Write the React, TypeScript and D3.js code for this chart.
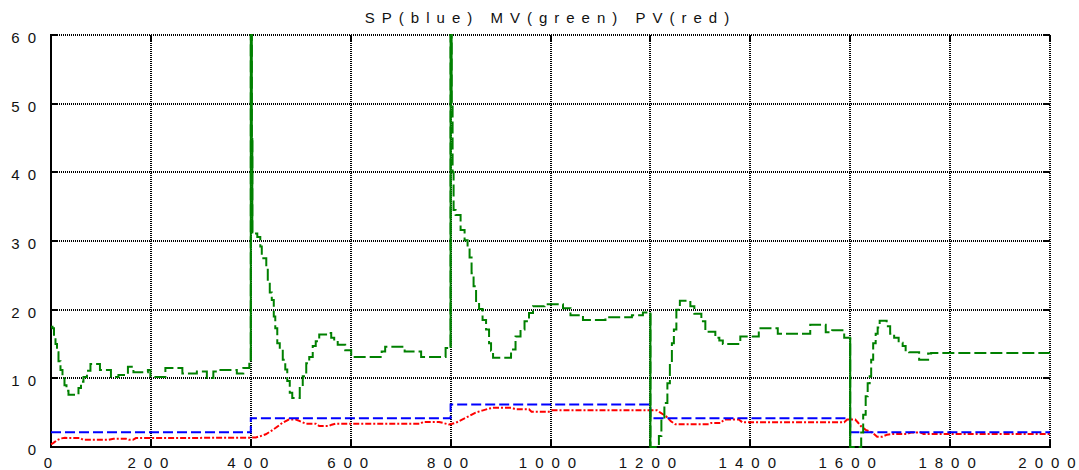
import React from "react";
import * as d3 from "d3";

const W = 1079;
const H = 470;
const PLOT = { left: 51, right: 1050, top: 35, bottom: 447 };

const TITLE = "SP(blue) MV(green) PV(red)";
const X_TICKS = [0, 200, 400, 600, 800, 1000, 1200, 1400, 1600, 1800, 2000];
const Y_TICKS = [0, 10, 20, 30, 40, 50, 60];

// Setpoint (step)
const SP_POINTS: [number, number][] = [
  [0, 2.15], [400, 4.2], [800, 6.2], [1200, 4.2], [1600, 2.15], [2000, 2.15],
];

// Manipulated variable (step)
const MV_POINTS: [number, number][] = [
  [0, 17.5], [3, 17.3], [6, 16.0], [9, 15.0], [12, 13.8], [15, 12.5], [19, 11.2],
  [23, 10.0], [27, 9.0], [31, 8.2], [35, 7.6], [55, 8.6], [60, 9.5], [65, 10.2],
  [72, 11.1], [79, 12.1], [98, 11.2], [120, 10.2], [135, 10.5], [154, 11.7],
  [165, 10.9], [194, 11.2], [199, 10.2], [229, 11.5], [263, 10.7], [292, 11.0],
  [312, 10.05], [325, 11.0], [336, 11.2], [372, 10.7], [385, 11.5], [397, 12.5],
  [400, 300], [401, 62], [402, 45], [403, 31.1], [413, 30.6], [419, 29.2],
  [422, 27.5], [431, 26.2], [434, 24.0], [438, 22.5], [442, 21.4], [446, 19.0],
  [449, 17.3], [453, 15.1], [458, 14.2], [464, 12.7], [469, 11.3], [473, 9.6],
  [478, 7.9], [483, 7.15], [498, 8.8], [504, 10.3], [511, 12.2], [517, 13.1],
  [524, 14.7], [530, 15.4], [537, 16.4], [554, 16.6], [561, 15.9], [567, 15.5],
  [574, 14.9], [589, 14.1], [601, 13.1], [662, 13.9], [669, 14.6], [708, 13.9],
  [741, 13.1], [790, 14.4],
  [800, 300], [801, 62], [802, 50], [804, 40], [806, 34.5], [810, 33.8],
  [820, 31.6], [828, 30.1], [834, 29.0], [838, 27.6], [842, 25.3], [846, 23.4],
  [851, 21.0], [857, 20.1], [864, 18.5], [871, 17.1], [877, 15.1], [881, 14.0],
  [885, 13.0], [921, 14.2], [930, 16.1], [940, 17.1], [948, 18.3], [957, 19.5],
  [965, 20.5], [988, 20.8], [1025, 20.2], [1040, 19.2], [1065, 18.5],
  [1110, 18.9], [1163, 19.2], [1185, 19.6],
  [1200, 0], [1217, 1.6], [1222, 4.0], [1228, 6.4], [1234, 9.3], [1239, 12.2],
  [1243, 15.1], [1247, 17.1], [1252, 20.0], [1259, 21.3], [1280, 20.5],
  [1288, 19.4], [1302, 18.3], [1310, 16.8], [1330, 15.9], [1338, 15.5],
  [1345, 15.0], [1380, 16.1], [1417, 17.3], [1455, 16.5], [1520, 17.8],
  [1551, 16.7], [1564, 17.0], [1588, 15.9],
  [1600, 0], [1622, 2.1], [1626, 4.7], [1631, 7.4], [1635, 9.3], [1639, 10.3],
  [1642, 12.7], [1646, 15.1], [1651, 16.5], [1655, 17.4], [1659, 18.4],
  [1673, 17.6], [1680, 16.5], [1688, 15.9], [1697, 15.2], [1705, 14.7],
  [1711, 13.9], [1718, 13.8], [1738, 12.7], [1756, 13.6], [1762, 13.7],
  [2000, 13.7],
];

// Process variable (line)
const PV_POINTS: [number, number][] = [
  [0, 0.4], [5, 0.6], [12, 1.0], [20, 1.25], [28, 1.33], [58, 1.3], [64, 1.05],
  [115, 1.05], [125, 1.2], [150, 1.2], [156, 1.05], [164, 1.05], [170, 1.3],
  [398, 1.35], [410, 1.4], [420, 1.6], [430, 1.85], [440, 2.3], [450, 2.8],
  [463, 3.5], [476, 4.0], [490, 4.0], [497, 3.8], [510, 3.4], [530, 3.4],
  [537, 3.05], [556, 3.05], [562, 3.25], [570, 3.4], [740, 3.4], [745, 3.65],
  [777, 3.65], [785, 3.5], [797, 3.27], [810, 3.5], [823, 4.0], [837, 4.5],
  [850, 5.0], [863, 5.3], [877, 5.6], [885, 5.7], [923, 5.7], [930, 5.5],
  [957, 5.5], [962, 5.15], [997, 5.15], [1003, 5.35], [1213, 5.35], [1220, 5.0],
  [1231, 4.5], [1241, 3.75], [1250, 3.3], [1317, 3.3], [1322, 3.5], [1340, 3.5],
  [1348, 4.0], [1377, 4.0], [1384, 3.6], [1588, 3.6], [1594, 4.0], [1610, 4.0],
  [1615, 3.6], [1622, 3.0], [1631, 2.5], [1644, 2.1], [1654, 1.5], [1664, 1.5],
  [1674, 1.8], [1687, 1.9], [1714, 1.9], [1721, 2.1], [1741, 2.1], [1747, 1.9],
  [2000, 1.9],
];

const FONT = "'Liberation Sans', Arial, Helvetica, sans-serif";

function SpacedText(props: {
  text: string;
  x: number;
  y: number;
  anchor: "start" | "middle" | "end";
  gap: number;
  size: number;
}) {
  const chars = Array.from(props.text);
  return (
    <text
      x={props.x}
      y={props.y}
      textAnchor={props.anchor}
      fontFamily={FONT}
      fontSize={props.size}
      fill="#111"
      style={{ whiteSpace: "pre" }}
    >
      {chars.map((c, i) => (
        <tspan key={i} dx={i === 0 ? 0 : props.gap}>
          {c}
        </tspan>
      ))}
    </text>
  );
}

export default function App() {
  const x = d3.scaleLinear().domain([0, 2000]).range([PLOT.left, PLOT.right]);
  const y = d3.scaleLinear().domain([0, 60]).range([PLOT.bottom, PLOT.top]);

  const stepLine = d3
    .line<[number, number]>()
    .x((d) => x(d[0]))
    .y((d) => y(d[1]))
    .curve(d3.curveStepAfter);
  const linLine = d3
    .line<[number, number]>()
    .x((d) => x(d[0]))
    .y((d) => y(d[1]));

  // big jumps of MV drawn solid
  const jumps: { t: number; a: number; b: number }[] = [];
  for (let i = 1; i < MV_POINTS.length; i++) {
    const a = MV_POINTS[i - 1][1];
    const b = MV_POINTS[i][1];
    if (Math.abs(b - a) >= 12) jumps.push({ t: MV_POINTS[i][0], a, b });
  }

  const gridStyle = {
    stroke: "#000",
    strokeWidth: 2,
    strokeDasharray: "1,1",
    shapeRendering: "crispEdges" as const,
  };
  const tickLen = 7;
  const px = (v: number) => Math.round(v);

  return (
    <svg
      width={W}
      height={H}
      style={{ position: "absolute", left: 0, top: 0, background: "#fff" }}
    >
      <defs>
        <clipPath id="plotClip">
          <rect
            x={PLOT.left - 1}
            y={PLOT.top - 1}
            width={PLOT.right - PLOT.left + 2}
            height={PLOT.bottom - PLOT.top + 2}
          />
        </clipPath>
      </defs>
      <rect x={0} y={0} width={W} height={H} fill="#fff" />

      {/* grid */}
      {X_TICKS.map((t) => (
        <line key={"gx" + t} x1={px(x(t))} x2={px(x(t))} y1={PLOT.top} y2={PLOT.bottom} {...gridStyle} />
      ))}
      {Y_TICKS.map((v) => (
        <line key={"gy" + v} x1={PLOT.left} x2={PLOT.right} y1={px(y(v))} y2={px(y(v))} {...gridStyle} />
      ))}

      {/* axes */}
      <line x1={PLOT.left} x2={PLOT.left} y1={PLOT.top - 1} y2={PLOT.bottom + 1} stroke="#000" strokeWidth={2} shapeRendering="crispEdges" />
      <line x1={PLOT.left - 1} x2={PLOT.right + 1} y1={PLOT.bottom} y2={PLOT.bottom} stroke="#000" strokeWidth={2} shapeRendering="crispEdges" />

      {/* ticks */}
      {X_TICKS.map((t) => (
        <g key={"tx" + t}>
          <line x1={px(x(t))} x2={px(x(t))} y1={PLOT.bottom} y2={PLOT.bottom - tickLen} stroke="#000" strokeWidth={2} shapeRendering="crispEdges" />
          <line x1={px(x(t))} x2={px(x(t))} y1={PLOT.top} y2={PLOT.top + tickLen} stroke="#000" strokeWidth={2} shapeRendering="crispEdges" />
        </g>
      ))}
      {Y_TICKS.map((v) => (
        <g key={"ty" + v}>
          <line x1={PLOT.left} x2={PLOT.left + tickLen} y1={px(y(v))} y2={px(y(v))} stroke="#000" strokeWidth={2} shapeRendering="crispEdges" />
          <line x1={PLOT.right} x2={PLOT.right - tickLen} y1={px(y(v))} y2={px(y(v))} stroke="#000" strokeWidth={2} shapeRendering="crispEdges" />
        </g>
      ))}

      {/* series */}
      <g clipPath="url(#plotClip)">
        <path d={linLine(PV_POINTS) || ""} fill="none" stroke="#ff0000" strokeWidth={2} strokeDasharray="6,2,2,2" />
        <path d={stepLine(SP_POINTS) || ""} fill="none" stroke="#0000ff" strokeWidth={2} strokeDasharray="10,4" />
        <path d={stepLine(MV_POINTS) || ""} fill="none" stroke="#008000" strokeWidth={2} strokeDasharray="12,4" />
        {jumps.map((j, i) => (
          <line key={"j" + i} x1={x(j.t)} x2={x(j.t)} y1={y(j.a)} y2={y(j.b)} stroke="#008000" strokeWidth={2} />
        ))}
      </g>

      {/* labels */}
      {X_TICKS.map((t) => (
        <SpacedText key={"lx" + t} text={String(t)} x={x(t) - 3} y={468} anchor="middle" gap={8} size={15} />
      ))}
      {Y_TICKS.map((v) => (
        <SpacedText key={"ly" + v} text={String(v)} x={36} y={y(v) + 8} anchor="end" gap={8} size={15} />
      ))}
      <SpacedText text={TITLE} x={547} y={23} anchor="middle" gap={7} size={15} />
    </svg>
  );
}
